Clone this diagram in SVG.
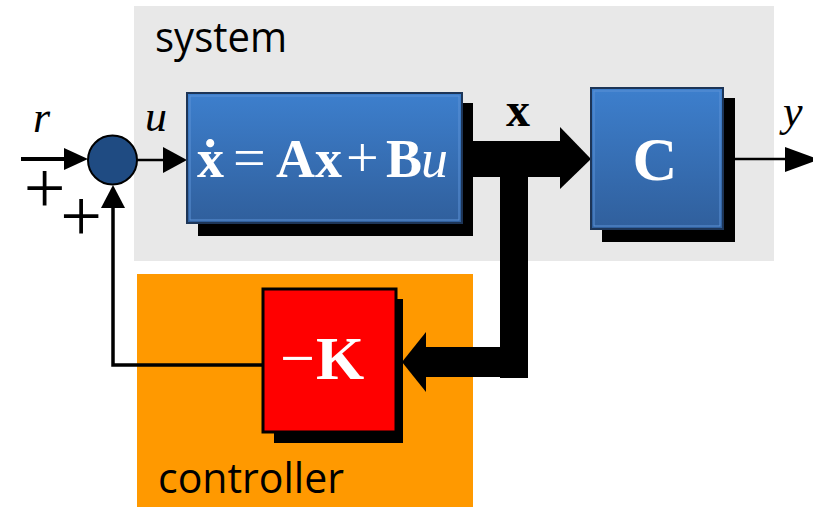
<svg xmlns="http://www.w3.org/2000/svg" width="813" height="507" viewBox="0 0 813 507">
<defs>
<linearGradient id="blue" x1="0" y1="0" x2="0" y2="1">
<stop offset="0" stop-color="#3d7fcd"/>
<stop offset="1" stop-color="#305f9c"/>
</linearGradient>
</defs>
<style>
.shadow{fill:#000}
.blk{fill:url(#blue);stroke:#1d3557;stroke-width:2}
.inner{fill:none;stroke:#5d92d6;stroke-width:1}
.math{font-family:"Liberation Serif","DejaVu Serif",serif;fill:#fff}
.lbl{font-family:"Liberation Serif","DejaVu Serif",serif;fill:#000}
.cap{font-family:"Open Sans","Noto Sans",sans-serif;font-size:42px;fill:#000}
.thin{fill:none;stroke:#000;stroke-linejoin:miter}
</style>
<rect width="813" height="507" fill="#fff"/>
<g id="system">
<rect x="134" y="6" width="640" height="255" fill="#e8e8e8"/>
<text class="cap" x="155" y="52" textLength="132" lengthAdjust="spacingAndGlyphs">system</text>
</g>
<g id="controller">
<rect x="137" y="274" width="336" height="233" fill="#ff9900"/>
<text class="cap" x="158" y="493" textLength="186" lengthAdjust="spacingAndGlyphs">controller</text>
</g>
<g id="connectors">
<line class="thin" x1="21" y1="159" x2="66" y2="159" stroke-width="4"/>
<polygon points="64,148 88,159 64,170" fill="#000"/>
<line class="thin" x1="136" y1="160" x2="165" y2="160" stroke-width="2.5"/>
<polygon points="163,147 187,160 163,173" fill="#000"/>
<line class="thin" x1="723" y1="159" x2="787" y2="159" stroke-width="2.5"/>
<polygon points="785,147 819,159.5 785,172" fill="#000"/>
<polyline class="thin" points="263,365 113,365 113,206" stroke-width="3.5"/>
<polygon points="101,208 113,185 125,208" fill="#000"/>
<rect x="460" y="141" width="102" height="36" fill="#000"/>
<polygon points="560,127 591,159 560,189" fill="#000"/>
<rect x="500" y="141" width="28" height="237" fill="#000"/>
<rect x="424" y="347" width="104" height="30" fill="#000"/>
<polygon points="426,332 402,362 426,392" fill="#000"/>
</g>
<g id="sum">
<circle cx="112.5" cy="160" r="24.5" fill="#1f4b82" stroke="#000" stroke-width="2"/>
</g>
<g id="plant">
<rect class="shadow" x="198" y="103" width="275" height="133"/>
<rect class="blk" x="187" y="93" width="275" height="130"/>
<rect class="inner" x="190" y="96" width="269" height="124"/>
<text class="math" y="177" font-size="54"><tspan x="197" font-weight="bold">ẋ</tspan><tspan x="233" font-size="58">=</tspan><tspan x="276" font-weight="bold">Ax</tspan><tspan x="346" font-size="58">+</tspan><tspan x="386" font-weight="bold">B</tspan><tspan x="421" font-style="italic">u</tspan></text>
</g>
<g id="output">
<rect class="shadow" x="602" y="98" width="133" height="144"/>
<rect class="blk" x="591" y="88" width="132" height="141"/>
<rect class="inner" x="594" y="91" width="126" height="135"/>
<text class="math" x="655" y="180" font-size="62" font-weight="bold" text-anchor="middle">C</text>
</g>
<g id="gain">
<rect class="shadow" x="274" y="299" width="129" height="144"/>
<rect x="263" y="289" width="133" height="143" fill="#ff0000" stroke="#000" stroke-width="3"/>
<text class="math" y="379" font-size="62"><tspan x="280">−</tspan><tspan x="316" font-weight="bold">K</tspan></text>
</g>
<g id="labels">
<text class="lbl" x="33" y="132" font-size="44" font-style="italic">r</text>
<text class="lbl" x="145" y="131" font-size="44" font-style="italic">u</text>
<text class="lbl" x="506" y="126" font-size="48" font-weight="bold">x</text>
<text class="lbl" x="783" y="126" font-size="44" font-style="italic">y</text>
<text class="lbl" x="44.5" y="213" font-size="74" text-anchor="middle">+</text>
<text class="lbl" x="81" y="241" font-size="74" text-anchor="middle">+</text>
</g>
</svg>
